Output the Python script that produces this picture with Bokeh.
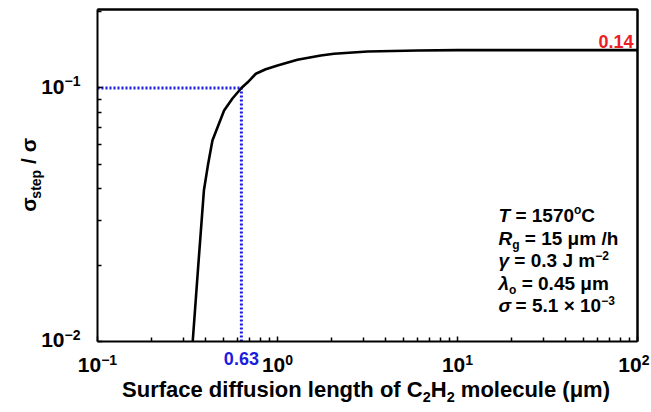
import math
from bokeh.plotting import figure
from bokeh.models import Label, FixedTicker, LogAxis
from bokeh.embed import file_html
from bokeh.resources import INLINE

# ---------------- data ----------------
diff_len = [0.338, 0.364, 0.39, 0.412, 0.435, 0.505, 0.562, 0.63, 0.683, 0.758,
            0.86, 1.0, 1.29, 1.74, 2.06, 3.17, 6.0, 10, 30, 100]
ratio = [0.0100, 0.0205, 0.0394, 0.0503, 0.0621, 0.0815, 0.0909, 0.100, 0.1053,
         0.1138, 0.1185, 0.1227, 0.1292, 0.1344, 0.1364, 0.1393, 0.1406, 0.141,
         0.141, 0.141]
marker_x = 0.63
marker_y = 0.1
plateau_label = "0.14"
marker_label = "0.63"
x_major = [0.1, 1, 10, 100]
x_tick_exp = ["\u22121", "0", "1", "2"]
y_major = [0.01, 0.1]
y_tick_exp = ["\u22122", "\u22121"]

X0, X1 = 0.1, 100
Y0, Y1 = 0.01, 0.204

FONT = "Liberation Sans"
BLUE = "#1c1ce0"
RED = "#ee1c25"

# canvas / plot-box placement (pixels)
W, H = 651, 412
BOX_L, BOX_R, BOX_T, BOX_B = 97, 637, 9, 341

DEC_X = (BOX_R - BOX_L) / (math.log10(X1) - math.log10(X0))
DEC_Y = (BOX_B - BOX_T) / (math.log10(Y1) - math.log10(Y0))
xa = 10 ** (math.log10(X0) - BOX_L / DEC_X)
xb = 10 ** (math.log10(X1) + (W - BOX_R) / DEC_X)
ya = 10 ** (math.log10(Y0) - (H - BOX_B) / DEC_Y)
yb = 10 ** (math.log10(Y1) + BOX_T / DEC_Y)

p = figure(width=W, height=H, x_axis_type="log", y_axis_type="log",
           x_range=(xa, xb), y_range=(ya, yb),
           output_backend="svg", toolbar_location=None,
           min_border_left=0, min_border_right=0,
           min_border_top=0, min_border_bottom=0)
p.grid.visible = False
p.outline_line_color = None
p.background_fill_color = "white"
p.border_fill_color = "white"

bottom_ax = p.xaxis[0]
left_ax = p.yaxis[0]
minor_x = [m * 10 ** e for e in (-1, 0, 1) for m in range(2, 10)]
minor_y = [m * 10 ** e for e in (-2, -1) for m in range(2, 10) if m * 10 ** e <= Y1]
bottom_ax.ticker = FixedTicker(ticks=x_major, minor_ticks=minor_x)
left_ax.ticker = FixedTicker(ticks=y_major, minor_ticks=minor_y)
bottom_ax.fixed_location = Y0
left_ax.fixed_location = X0
bottom_ax.bounds = (X0, X1)
left_ax.bounds = (Y0, Y1)

# closing top / right sides of the box (tick marks hidden)
top_ax = LogAxis(fixed_location=Y1, bounds=(X0, X1), ticker=FixedTicker(ticks=x_major))
right_ax = LogAxis(fixed_location=X1, bounds=(Y0, Y1), ticker=FixedTicker(ticks=y_major))
p.add_layout(top_ax, "above")
p.add_layout(right_ax, "right")

for ax in (bottom_ax, left_ax, top_ax, right_ax):
    ax.axis_line_width = 2
    ax.axis_line_color = "black"
    ax.major_tick_in = 5
    ax.major_tick_out = 0
    ax.minor_tick_in = 4
    ax.minor_tick_out = 0
    ax.major_tick_line_width = 1.5
    ax.minor_tick_line_width = 1.5
    ax.major_label_text_font_size = "0px"
    ax.major_label_text_color = None
for ax in (top_ax, right_ax):
    ax.major_tick_line_color = None
    ax.minor_tick_line_color = None

# top and right sides of the plot box (glyph, as well)
p.line([X0, X1, X1], [Y1, Y1, Y0], line_color="black", line_width=2, level="overlay")

# guide lines
p.line([X0, marker_x], [marker_y, marker_y], line_color=BLUE, line_width=3, line_dash="2 2")
p.line([marker_x, marker_x], [Y0, marker_y], line_color=BLUE, line_width=3, line_dash="2 2")
# main curve
p.line(diff_len, ratio, line_color="black", line_width=2.6, line_join="round")


# ---------------- text helpers (pixel -> data) ----------------
def dx(px):
    return 10 ** (math.log10(X0) + (px - BOX_L) / DEC_X)


def dy(py):
    return 10 ** (math.log10(Y0) + (BOX_B - py) / DEC_Y)


def px_of_x(v):
    return BOX_L + (math.log10(v) - math.log10(X0)) * DEC_X


def py_of_y(v):
    return BOX_B - (math.log10(v) - math.log10(Y0)) * DEC_Y


WID = {" ": .278, "S": .667, "u": .611, "r": .389, "f": .333, "a": .556, "c": .556,
       "e": .556, "d": .611, "i": .278, "s": .556, "o": .611, "n": .611, "l": .278,
       "g": .611, "t": .333, "h": .611, "C": .722, "H": .722, "m": .889, "(": .333,
       ")": .333, "\u03bc": .611, ".": .278, "=": .584, "/": .278, "\u00d7": .584,
       "\u2212": .584, "T": .611, "R": .722, "J": .556, "p": .611, "\u03c3": .62,
       "\u03b3": .556, "\u03bb": .556}
MID = 0.35  # em distance from baseline to the em-box middle


def tw(s, size):
    return sum(WID.get(c, .556) for c in s) * size


def put(px, py, text, size, color="black", style="bold", align="left", angle=0.0):
    # (px, py) is the baseline point; place by em-box middle
    if angle:
        px -= MID * size
    else:
        py -= MID * size
    p.add_layout(Label(x=dx(px), y=dy(py), text=text, text_font=FONT,
                       text_font_size=f"{size}px", text_font_style=style,
                       text_color=color, text_align=align,
                       text_baseline="middle", angle=angle))


def run(px, py, pieces, color="black"):
    # pieces: (text, size, baseline offset, style); leading blanks become advance
    x = px
    for text, size, off, style in pieces:
        t = text.lstrip(" ")
        x += (len(text) - len(t)) * WID[" "] * size
        put(x, py + off, t, size, color, style)
        x += tw(t, size)


def run_width(pieces):
    return sum(tw(t, s) for t, s, _, _ in pieces)


# x tick labels
for v, e in zip(x_major, x_tick_exp):
    pcs = [("10", 21, 0, "bold"), (e, 14, -8, "bold")]
    w = run_width(pcs)
    cx = px_of_x(v)
    start = min(cx - w / 2, W - 2 - w)
    run(start, 372, pcs)

# y tick labels
for v, e in zip(y_major, y_tick_exp):
    pcs = [("10", 21, 0, "bold"), (e, 14, -8, "bold")]
    w = run_width(pcs)
    run(80 - w, py_of_y(v) + 6, pcs)

# x axis title
xt = [("Surface diffusion length of C", 22, 0, "bold"), ("2", 14.5, 5, "bold"),
      ("H", 22, 0, "bold"), ("2", 14.5, 5, "bold"), (" molecule (\u03bcm)", 22, 0, "bold")]
run(365.5 - run_width(xt) / 2, 397, xt)

# y axis title (rotated, reads bottom to top)
yt = [("\u03c3", 21, 0, "bold"), ("step", 14, 5, "bold"), (" / \u03c3", 21, 0, "bold")]
yy = 175 + run_width(yt) / 2
for text, size, off, style in yt:
    t = text.lstrip(" ")
    yy -= (len(text) - len(t)) * WID[" "] * size
    put(35 + off, yy, t, size, "black", style, angle=math.pi / 2)
    yy -= tw(t, size)

# value labels
put(633, 47, plateau_label, 18, RED, "bold", align="right")
put(px_of_x(marker_x), 364, marker_label, 18, BLUE, "bold", align="center")

# parameter block
S, s = 19, 12
lines = [
    [("T", S, 0, "bold italic"), (" = 1570", S, 0, "bold"), ("o", s, -8, "bold"), ("C", S, 0, "bold")],
    [("R", S, 0, "bold italic"), ("g", s, 4, "bold"), (" = 15 \u03bcm /h", S, 0, "bold")],
    [("\u03b3", S, 0, "bold italic"), (" = 0.3 J m", S, 0, "bold"), ("\u22122", s, -8, "bold")],
    [("\u03bb", S, 0, "bold italic"), ("o", s, 4, "bold"), (" = 0.45 \u03bcm", S, 0, "bold")],
    [("\u03c3", S, 0, "bold italic"), (" = 5.1 \u00d7 10", S, 0, "bold"), ("\u22123", s, -8, "bold")],
]
for i, ln in enumerate(lines):
    run(498, 222 + i * 22.5, ln)

open("out.html", "w").write(file_html(p, INLINE))
